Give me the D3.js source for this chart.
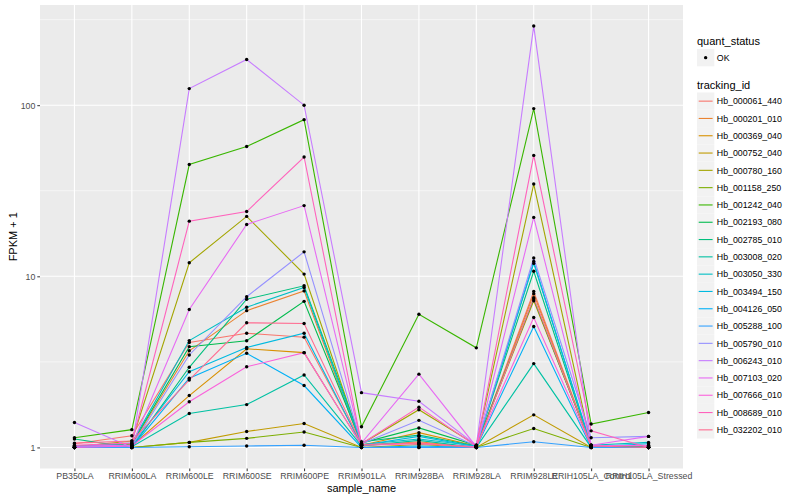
<!DOCTYPE html>
<html>
<head>
<meta charset="utf-8">
<script src="https://cdn.jsdelivr.net/npm/d3@7"></script>
<style>
  body { margin: 0; background: #fff; }
  text { font-family: "Liberation Sans", Arial, Helvetica, sans-serif; }
</style>
</head>
<body>
<svg id="chart" width="800" height="500"></svg>
<script>
// samples on the x axis
var samples = ['PB350LA', 'RRIM600LA', 'RRIM600LE', 'RRIM600SE', 'RRIM600PE', 'RRIM901LA',
  'RRIM928BA', 'RRIM928LA', 'RRIM928LE', 'RRIH105LA_Control', 'RRIH105LA_Stressed'];

var trackingIds = ['Hb_000061_440', 'Hb_000201_010', 'Hb_000369_040', 'Hb_000752_040', 'Hb_000780_160',
  'Hb_001158_250', 'Hb_001242_040', 'Hb_002193_080', 'Hb_002785_010', 'Hb_003008_020',
  'Hb_003050_330', 'Hb_003494_150', 'Hb_004126_050', 'Hb_005288_100', 'Hb_005790_010',
  'Hb_006243_010', 'Hb_007103_020', 'Hb_007666_010', 'Hb_008689_010', 'Hb_032202_010'];

// FPKM + 1, one row per tracking id, in sample order
var fpkm = [
  [1.05, 1.17, 4.10, 4.65, 4.41, 1.04, 1.06, 1.01, 8.15, 1.02, 1.01],
  [1.00, 1.04, 3.67, 6.30, 8.22, 1.02, 1.08, 1.00, 7.90, 1.01, 1.00],
  [1.00, 1.02, 2.01, 3.77, 3.58, 1.03, 1.22, 1.02, 7.20, 1.03, 1.01],
  [1.00, 1.00, 1.07, 1.24, 1.38, 1.00, 1.04, 1.00, 1.55, 1.00, 1.00],
  [1.01, 1.09, 12.0, 22.4, 10.3, 1.05, 1.66, 1.03, 34.6, 1.02, 1.00],
  [1.00, 1.00, 1.07, 1.13, 1.23, 1.00, 1.00, 1.00, 1.29, 1.00, 1.00],
  [1.14, 1.27, 45.0, 57.4, 82.3, 1.32, 6.00, 3.82, 95.5, 1.37, 1.60],
  [1.02, 1.05, 3.88, 4.20, 7.14, 1.06, 1.30, 1.03, 7.36, 1.02, 1.01],
  [1.12, 1.00, 2.94, 7.35, 8.80, 1.08, 1.18, 1.02, 10.7, 1.01, 1.00],
  [1.00, 1.01, 1.58, 1.78, 2.65, 1.02, 1.10, 1.00, 3.09, 1.00, 1.00],
  [1.01, 1.06, 4.21, 6.60, 8.60, 1.04, 1.12, 1.02, 11.9, 1.03, 1.07],
  [1.00, 1.03, 2.77, 3.84, 4.65, 1.03, 1.16, 1.01, 12.2, 1.01, 1.05],
  [1.00, 1.00, 2.54, 3.55, 2.30, 1.00, 1.02, 1.00, 5.09, 1.00, 1.00],
  [1.00, 1.00, 1.01, 1.02, 1.03, 1.00, 1.00, 1.00, 1.08, 1.00, 1.00],
  [1.01, 1.02, 3.47, 7.60, 13.9, 1.05, 1.44, 1.02, 12.8, 1.14, 1.16],
  [1.40, 1.00, 125,  185,  100,  2.09, 1.86, 1.03, 290,  1.03, 1.02],
  [1.02, 1.03, 6.40, 20.1, 25.9, 1.06, 2.68, 1.01, 22.1, 1.03, 1.16],
  [1.00, 1.02, 1.85, 2.96, 3.58, 1.03, 1.05, 1.01, 5.74, 1.02, 1.03],
  [1.03, 1.06, 21.0, 23.9, 49.8, 1.05, 1.72, 1.02, 50.9, 1.25, 1.00],
  [1.06, 1.09, 2.48, 5.35, 5.30, 1.04, 1.06, 1.00, 7.50, 1.02, 1.00]
];

var yTicks = [1, 10, 100];
var yMinor = [Math.sqrt(10), Math.sqrt(1000), Math.sqrt(100000)];

// ggplot default hue palette for 20 levels
var palette = ['#F8766D', '#EA8331', '#D89000', '#C09B00', '#A3A500', '#7CAE00', '#39B600', '#00BB4E',
  '#00BF7D', '#00C1A3', '#00BFC4', '#00BAE0', '#00B0F6', '#35A2FF', '#9590FF', '#C77CFF',
  '#E76BF3', '#FA62DB', '#FF62BC', '#FF6C91'];

var panel = {left: 40, right: 683, top: 5, bottom: 468.5};

var series = trackingIds.map(function(id, i) {
  return {id: id, values: samples.map(function(s, j) { return {sample: s, v: fpkm[i][j]}; })};
});

var all = d3.merge(fpkm);
var lo = Math.log10(d3.min(all)), hi = Math.log10(d3.max(all));
var pad = (hi - lo) * 0.05;

var x = d3.scalePoint().domain(samples).range([panel.left, panel.right]).padding(0.6);
var y = d3.scaleLog().domain([Math.pow(10, lo - pad), Math.pow(10, hi + pad)]).range([panel.bottom, panel.top]);
var color = d3.scaleOrdinal().domain(trackingIds).range(palette);

var svg = d3.select('#chart');

svg.append('rect')
  .attr('x', panel.left).attr('y', panel.top)
  .attr('width', panel.right - panel.left).attr('height', panel.bottom - panel.top)
  .attr('fill', '#EBEBEB');

// grid
svg.append('g').selectAll('line').data(yMinor).enter().append('line')
  .attr('x1', panel.left).attr('x2', panel.right)
  .attr('y1', function(d) { return y(d); }).attr('y2', function(d) { return y(d); })
  .attr('stroke', '#fff').attr('stroke-width', 0.55);

svg.append('g').selectAll('line').data(yTicks).enter().append('line')
  .attr('x1', panel.left).attr('x2', panel.right)
  .attr('y1', function(d) { return y(d); }).attr('y2', function(d) { return y(d); })
  .attr('stroke', '#fff').attr('stroke-width', 1.1);

svg.append('g').selectAll('line').data(samples).enter().append('line')
  .attr('y1', panel.top).attr('y2', panel.bottom)
  .attr('x1', function(d) { return x(d); }).attr('x2', function(d) { return x(d); })
  .attr('stroke', '#fff').attr('stroke-width', 1.1);

// lines
var line = d3.line()
  .x(function(d) { return x(d.sample); })
  .y(function(d) { return y(d.v); });

svg.append('g').selectAll('path').data(series).enter().append('path')
  .attr('d', function(d) { return line(d.values); })
  .attr('fill', 'none')
  .attr('stroke', function(d) { return color(d.id); })
  .attr('stroke-width', 1.1);

// points
svg.append('g').selectAll('g').data(series).enter().append('g')
  .selectAll('circle').data(function(d) { return d.values; }).enter().append('circle')
  .attr('cx', function(d) { return x(d.sample); })
  .attr('cy', function(d) { return y(d.v); })
  .attr('r', 1.7)
  .attr('fill', '#000');

// axes
var yAxis = d3.axisLeft(y).tickValues(yTicks).tickFormat(d3.format('d')).tickSize(2.7).tickPadding(2);
svg.append('g')
  .attr('transform', 'translate(' + panel.left + ',0)')
  .call(yAxis)
  .call(function(g) {
    g.select('.domain').remove();
    g.selectAll('line').attr('stroke', '#333');
    g.selectAll('text').attr('fill', '#4D4D4D').style('font-size', '8.8px')
      .style('font-family', '"Liberation Sans", Arial, sans-serif');
  });

var xAxis = d3.axisBottom(x).tickSize(2.7).tickPadding(2);
svg.append('g')
  .attr('transform', 'translate(0,' + panel.bottom + ')')
  .call(xAxis)
  .call(function(g) {
    g.select('.domain').remove();
    g.selectAll('line').attr('stroke', '#333');
    g.selectAll('text').attr('fill', '#4D4D4D').style('font-size', '8.8px')
      .style('font-family', '"Liberation Sans", Arial, sans-serif');
  });

svg.append('text')
  .attr('x', (panel.left + panel.right) / 2).attr('y', 492)
  .attr('text-anchor', 'middle').style('font-size', '11px')
  .text('sample_name');

svg.append('text')
  .attr('transform', 'translate(17,' + ((panel.top + panel.bottom) / 2) + ') rotate(-90)')
  .attr('text-anchor', 'middle').style('font-size', '11px')
  .text('FPKM + 1');

// legends
var lx = 697, key = 17.3;
var legend = svg.append('g');

legend.append('text').attr('x', lx).attr('y', 44.5).style('font-size', '11px').text('quant_status');
legend.append('rect').attr('x', lx).attr('y', 49).attr('width', key).attr('height', key).attr('fill', '#F2F2F2');
legend.append('circle').attr('cx', lx + key / 2).attr('cy', 49 + key / 2).attr('r', 1.7).attr('fill', '#000');
legend.append('text').attr('x', lx + key + 2.5).attr('y', 49 + key / 2 + 3.2).style('font-size', '8.8px').text('OK');

legend.append('text').attr('x', lx).attr('y', 88.5).style('font-size', '11px').text('tracking_id');

var items = legend.selectAll('g.item').data(trackingIds).enter().append('g')
  .attr('class', 'item')
  .attr('transform', function(d, i) { return 'translate(' + lx + ',' + (92.5 + i * key) + ')'; });

items.append('rect').attr('width', key).attr('height', key).attr('fill', '#F2F2F2');
items.append('line')
  .attr('x1', 1.7).attr('x2', key - 1.7).attr('y1', key / 2).attr('y2', key / 2)
  .attr('stroke', function(d) { return color(d); }).attr('stroke-width', 1.1);
items.append('text')
  .attr('x', key + 2.5).attr('y', key / 2 + 3.2)
  .style('font-size', '8.8px')
  .text(function(d) { return d; });
</script>
</body>
</html>
